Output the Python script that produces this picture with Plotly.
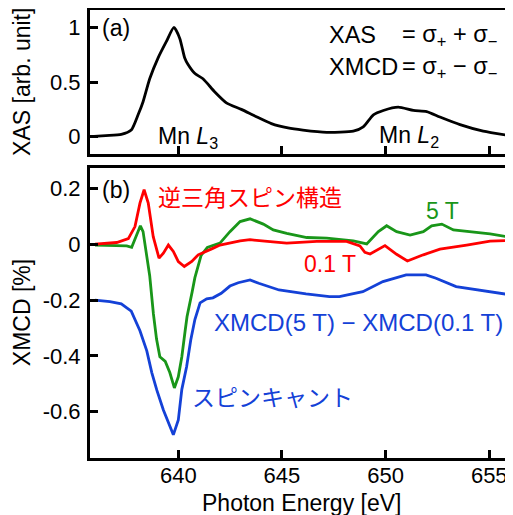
import plotly.graph_objects as go

# ---------------- data ----------------
xas_energy = [635.64, 636.5, 637.25, 637.73, 638.06, 638.30, 638.62, 639.02, 639.42, 639.79,
              640.07, 640.31, 640.47, 640.79, 641.19, 641.76, 642.32, 643.04, 643.69, 644.49,
              645.29, 646.01, 647.16, 648.44, 648.92, 649.41, 649.89, 650.61, 651.34, 651.98,
              652.62, 653.59, 654.71, 656.0]
xas = [0.00, 0.01, 0.02, 0.06, 0.20, 0.32, 0.53, 0.72, 0.87, 1.00,
       0.90, 0.72, 0.66, 0.58, 0.53, 0.41, 0.31, 0.25, 0.19, 0.12,
       0.08, 0.06, 0.04, 0.05, 0.09, 0.20, 0.24, 0.27, 0.24, 0.23,
       0.18, 0.11, 0.05, 0.01]

red_energy = [635.98, 637.03, 637.59, 637.91, 638.15, 638.35, 638.55, 638.79, 639.07, 639.28,
              639.52, 639.76, 640.00, 640.29, 640.65, 640.96, 641.69, 642.01, 642.98, 643.46,
              644.30, 645.23, 646.68, 648.12, 648.76, 649.00, 649.25, 649.97, 650.53, 651.05,
              651.82, 652.62, 653.91, 655.04, 656.00]
red_xmcd = [0.000, 0.006, 0.020, 0.063, 0.147, 0.195, 0.147, 0.027, -0.050, -0.032,
            -0.003, -0.026, -0.062, -0.080, -0.062, -0.038, -0.014, -0.003, 0.012, 0.016,
            0.010, 0.004, 0.010, 0.010, -0.006, -0.029, -0.035, -0.005, -0.036, -0.060,
            -0.038, -0.018, -0.003, 0.011, 0.013]

green_energy = [635.98, 637.51, 637.75, 637.99, 638.17, 638.30, 638.46, 638.62, 638.80, 638.95,
                639.11, 639.37, 639.59, 639.81, 640.00, 640.17, 640.33, 640.42, 640.67, 640.80,
                641.10, 641.40, 642.01, 642.49, 642.98, 643.46, 644.10, 644.58, 645.23, 646.20,
                647.16, 648.44, 649.09, 649.65, 650.05, 650.53, 651.18, 651.82, 652.22, 652.71,
                653.27, 654.07, 655.04, 656.00]
green_xmcd = [-0.003, -0.006, -0.011, 0.033, 0.066, 0.045, -0.026, -0.113, -0.250, -0.340,
              -0.403, -0.420, -0.460, -0.515, -0.475, -0.403, -0.310, -0.260, -0.170, -0.120,
              -0.040, -0.012, 0.004, 0.045, 0.081, 0.091, 0.072, 0.051, 0.039, 0.024,
              0.022, 0.012, 0.001, 0.045, 0.066, 0.045, 0.033, 0.045, 0.066, 0.072,
              0.051, 0.045, 0.037, 0.025]

blue_energy = [635.98, 636.70, 637.25, 637.73, 638.15, 638.48, 638.72, 638.96, 639.28, 639.52,
               639.76, 640.00, 640.17, 640.40, 640.60, 640.80, 641.05, 641.37, 641.67, 642.07,
               642.49, 642.89, 643.46, 643.88, 644.86, 646.16, 647.29, 647.77, 648.90, 649.87,
               650.99, 651.95, 652.43, 653.40, 654.52, 655.82]
blue_xmcd = [-0.200, -0.206, -0.214, -0.240, -0.310, -0.382, -0.460, -0.522, -0.594, -0.642,
             -0.683, -0.630, -0.520, -0.439, -0.343, -0.270, -0.210, -0.196, -0.192, -0.176,
             -0.150, -0.138, -0.128, -0.140, -0.164, -0.178, -0.188, -0.188, -0.170, -0.134,
             -0.110, -0.110, -0.122, -0.152, -0.164, -0.179]

xas_ticks = [0, 0.5, 1]
xas_ticklabels = ["0", "0.5", "1"]
xmcd_ticks = [0.2, 0, -0.2, -0.4, -0.6]
xmcd_ticklabels = ["0.2", "0", "-0.2", "-0.4", "-0.6"]
energy_ticks = [640, 645, 650, 655]

# ---------------- style ----------------
FONT = "Liberation Sans, Arial, Helvetica, sans-serif"
JFONT = "Noto Sans CJK JP, sans-serif"
FS = 23
TFS = 22
RED = "rgb(255,0,0)"
GREEN = "rgb(25,150,25)"
BLUE = "rgb(20,65,215)"
LW = 2.8

fig = go.Figure()
fig.add_trace(go.Scatter(x=xas_energy, y=xas, mode="lines", xaxis="x", yaxis="y",
                         line=dict(color="black", width=LW, shape="spline", smoothing=0.6)))
fig.add_trace(go.Scatter(x=green_energy, y=green_xmcd, mode="lines", xaxis="x2", yaxis="y2",
                         line=dict(color=GREEN, width=LW)))
fig.add_trace(go.Scatter(x=red_energy, y=red_xmcd, mode="lines", xaxis="x2", yaxis="y2",
                         line=dict(color=RED, width=LW)))
fig.add_trace(go.Scatter(x=blue_energy, y=blue_xmcd, mode="lines", xaxis="x2", yaxis="y2",
                         line=dict(color=BLUE, width=LW)))

xrange = [635.74, 656.145]
axis_common = dict(showline=True, linecolor="black", linewidth=3, ticks="inside", ticklen=8,
                   tickwidth=2.5, tickcolor="black", showgrid=False, zeroline=False,
                   tickfont=dict(family=FONT, size=TFS, color="black"))

top_dom = [0.679, 1.0]
bot_dom = [0.0, 0.6467]

# the page body adds an 8px offset, so the figure is 8px smaller on each side
fig.update_layout(
    width=505, height=507,
    margin=dict(l=82, r=0, t=2, b=57),
    paper_bgcolor="white", plot_bgcolor="white",
    showlegend=False,
    xaxis=dict(domain=[0, 1], anchor="y", range=xrange, tickvals=energy_ticks,
               showticklabels=False, mirror=True, **axis_common),
    yaxis=dict(domain=top_dom, anchor="x", range=[-0.157, 1.160], tickvals=xas_ticks,
               ticktext=xas_ticklabels, ticklabelstandoff=2, **axis_common),
    xaxis2=dict(domain=[0, 1], anchor="y2", range=xrange, tickvals=energy_ticks,
                mirror=True, matches="x", ticklabelstandoff=-4, **axis_common),
    yaxis2=dict(domain=bot_dom, anchor="x2", range=[-0.766, 0.272], tickvals=xmcd_ticks,
                ticktext=xmcd_ticklabels, ticklabelstandoff=2, **axis_common),
)

def ann(text, x, y, xref, yref, color="black", family=FONT, size=FS, **kw):
    fig.add_annotation(text=text, x=x, y=y, xref=xref, yref=yref, showarrow=False,
                       xanchor=kw.pop("xanchor", "left"), yanchor=kw.pop("yanchor", "middle"),
                       font=dict(family=family, size=size, color=color), **kw)

# top panel labels
ann("(a)", 636.22, 0.993, "x", "y")
ann("XAS", 647.17, 0.929, "x", "y", size=23.5)
ann("= σ<sub>+</sub> + σ<sub>−</sub>", 650.70, 0.929, "x", "y", size=23.5)
ann("XMCD", 647.17, 0.636, "x", "y", size=23.5)
ann("= σ<sub>+</sub> − σ<sub>−</sub>", 650.70, 0.636, "x", "y", size=23.5)
ann("Mn <i>L</i><sub>3</sub>", 638.90, -0.01, "x", "y")
ann("Mn <i>L</i><sub>2</sub>", 649.58, 0.0, "x", "y")

# bottom panel labels
ann("(b)", 636.22, 0.195, "x2", "y2")
ann("逆三角スピン構造", 638.90, 0.174, "x2", "y2", color=RED, family=JFONT)
ann("5 T", 651.85, 0.119, "x2", "y2", color=GREEN)
ann("0.1 T", 645.97, -0.070, "x2", "y2", color=RED)
ann("XMCD(5 T) − XMCD(0.1 T)", 641.62, -0.282, "x2", "y2", color=BLUE, size=24)
ann("スピンキャント", 640.56, -0.544, "x2", "y2", color=BLUE, family=JFONT)

# axis titles
ann("XAS [arb. unit]", 0, (top_dom[0] + top_dom[1]) / 2, "paper", "paper",
    xanchor="center", textangle=-90, xshift=-68)
ann("XMCD [%]", 0, (bot_dom[0] + bot_dom[1]) / 2, "paper", "paper",
    xanchor="center", textangle=-90, xshift=-68)
ann("Photon Energy [eV]", 0.5, 0, "paper", "paper", xanchor="center", yshift=-45)

fig.write_html("out.html")
